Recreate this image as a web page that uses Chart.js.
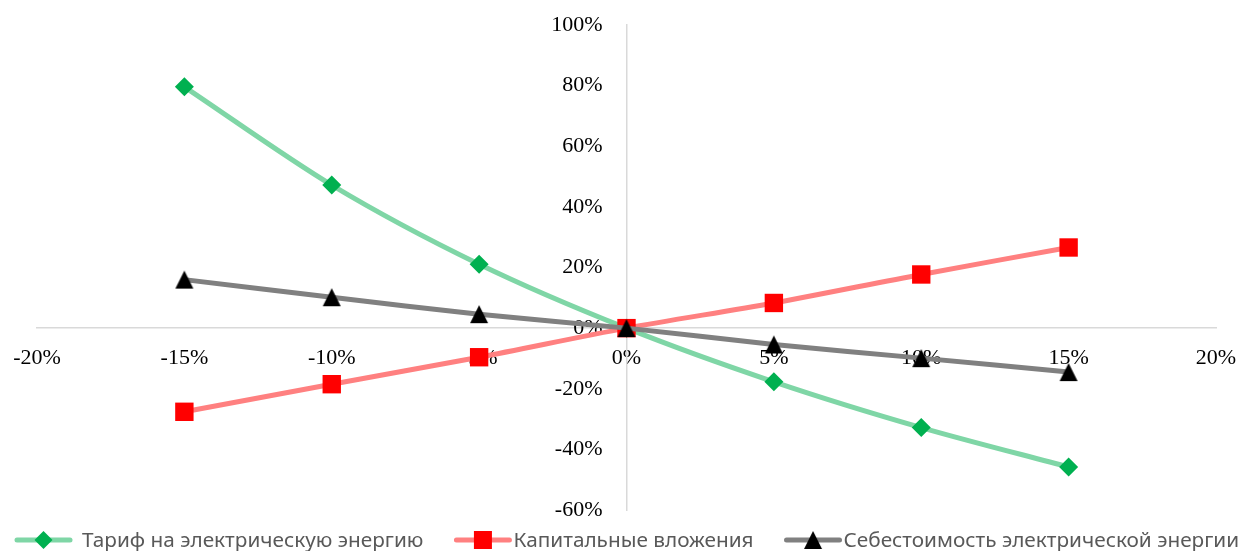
<!DOCTYPE html>
<html>
<head>
<meta charset="utf-8">
<script src="https://cdn.jsdelivr.net/npm/chart.js@4.4.1/dist/chart.umd.min.js"></script>
<style>
  html, body { margin: 0; padding: 0; background: #fff; }
  #wrap { width: 1245px; height: 551px; position: relative; }
</style>
</head>
<body>
<div id="wrap"><canvas id="chart" width="1245" height="551"></canvas></div>
<script>
// Change of the input parameter, %
const changes = [-15, -10, -5, 0, 5, 10, 15];

// Change of the result, % (one array per factor)
const tariffValues = [79.6, 47.2, 21.1, 0, -17.7, -32.8, -45.8];
const capexValues  = [-27.6, -18.5, -9.6, 0, 8.3, 17.7, 26.6];
const costValues   = [16.0, 10.2, 4.6, 0, -5.4, -9.9, -14.5];

const seriesNames = [
  'Тариф на электрическую энергию',
  'Капитальные вложения',
  'Себестоимость электрической энергии'
];

// Axis ranges and tick steps
const xRange = [-20, 20];
const xStep = 5;
const yRange = [-60, 100];
const yStep = 20;

// Plot rectangle inside the 1245x551 canvas
const plotBox = { left: 37, right: 1216, top: 25, bottom: 510 };
const yLabelGap = 24;   // right edge of y labels to the vertical axis
const xLabelDrop = 30;  // horizontal axis to the middle of x labels

function toPoints(xs, ys) {
  return xs.map((x, i) => ({ x: x, y: ys[i] }));
}

// Triangle marker whose bounding box is centred on the point
function triangleMarker(size, color) {
  const c = document.createElement('canvas');
  c.width = size + 2;
  c.height = size + 2;
  const g = c.getContext('2d');
  g.fillStyle = color;
  g.beginPath();
  g.moveTo(1 + size / 2, 1);
  g.lineTo(1 + size, 1 + size);
  g.lineTo(1, 1 + size);
  g.closePath();
  g.fill();
  return c;
}
const triImg = triangleMarker(18, '#000000');

const styles = [
  { line: '#7fd6a6', mark: '#00b050', pointStyle: 'rectRot', radius: 9.5 },
  { line: '#ff8080', mark: '#ff0000', pointStyle: 'rect', radius: 13 },
  { line: '#808080', mark: '#000000', pointStyle: triImg, radius: 10 }
];

const valueSets = [tariffValues, capexValues, costValues];

const datasets = valueSets.map((vals, i) => ({
  label: seriesNames[i],
  data: toPoints(changes, vals),
  borderColor: styles[i].line,
  backgroundColor: styles[i].mark,
  borderWidth: 5,
  pointStyle: styles[i].pointStyle,
  pointRadius: styles[i].radius,
  pointHoverRadius: styles[i].radius,
  pointBackgroundColor: styles[i].mark,
  pointBorderColor: styles[i].mark,
  pointBorderWidth: 0,
  tension: 0.3,
  fill: false,
  order: 3 - i,
  clip: false
}));

// Tick labels of the crossing axes: y labels left of the vertical axis,
// x labels centred a fixed distance below the horizontal axis
const axisLabelPlacement = {
  id: 'axisLabelPlacement',
  beforeDraw(chart) {
    const sx = chart.scales.x, sy = chart.scales.y;
    if (!sx || !sy || typeof sy._computeLabelItems !== 'function') return;
    const axisX = sx.getPixelForValue(0);
    const axisY = sy.getPixelForValue(0);
    const yItems = sy._computeLabelItems(chart.chartArea);
    yItems.forEach(it => {
      it.options.translation[0] = axisX - yLabelGap;
      it.options.textAlign = 'right';
      it.options.textBaseline = 'middle';
      it.textOffset = 0;
    });
    sy._labelItems = yItems;
    const xItems = sx._computeLabelItems(chart.chartArea);
    xItems.forEach(it => {
      it.options.translation[1] = axisY + xLabelDrop;
      it.options.textAlign = 'center';
      it.options.textBaseline = 'middle';
      it.textOffset = 0;
    });
    sx._labelItems = xItems;
  }
};

// Legend drawn below the plot: line sample with marker, then the name
const bottomLegend = {
  id: 'bottomLegend',
  afterDraw(chart) {
    const ctx = chart.ctx;
    const y = 540;
    const family = '"Noto Sans", "Open Sans", sans-serif';
    ctx.save();
    ctx.font = '20px ' + family;
    const targetTotal = 978;
    const measured = seriesNames.reduce((s, n) => s + ctx.measureText(n).width, 0);
    const fontSize = 20 * targetTotal / measured;
    ctx.font = fontSize.toFixed(2) + 'px ' + family;
    const sampleLen = 57;
    const textGap = [10, 2, 2];
    const itemGap = 31;
    let x = 15;
    seriesNames.forEach((name, i) => {
      const st = styles[i];
      ctx.strokeStyle = st.line;
      ctx.lineWidth = 5;
      ctx.lineCap = 'round';
      ctx.beginPath();
      ctx.moveTo(x + 2, y);
      ctx.lineTo(x + sampleLen - 2, y);
      ctx.stroke();
      const cx = x + sampleLen / 2;
      ctx.fillStyle = st.mark;
      if (i === 0) {
        ctx.beginPath();
        ctx.moveTo(cx, y - 9);
        ctx.lineTo(cx + 9, y);
        ctx.lineTo(cx, y + 9);
        ctx.lineTo(cx - 9, y);
        ctx.closePath();
        ctx.fill();
      } else if (i === 1) {
        ctx.fillRect(cx - 9, y - 9, 18, 18);
      } else {
        ctx.drawImage(triImg, cx - triImg.width / 2, y - triImg.height / 2);
      }
      const tx = x + sampleLen + textGap[i];
      ctx.fillStyle = '#595959';
      ctx.textAlign = 'left';
      ctx.textBaseline = 'middle';
      ctx.fillText(name, tx, y + 1);
      x = tx + ctx.measureText(name).width + itemGap;
    });
    ctx.restore();
  }
};

const tickFont = { family: '"Liberation Serif", "Times New Roman", serif', size: 22 };

const pad = { left: plotBox.left, right: 1245 - plotBox.right, top: plotBox.top, bottom: 551 - plotBox.bottom };

const chart = new Chart(document.getElementById('chart'), {
  type: 'line',
  data: { datasets: datasets },
  plugins: [axisLabelPlacement, bottomLegend],
  options: {
    responsive: false,
    animation: false,
    events: [],
    layout: { padding: Object.assign({}, pad) },
    plugins: {
      legend: { display: false },
      tooltip: { enabled: false },
      title: { display: false }
    },
    scales: {
      x: {
        type: 'linear',
        position: { y: 0 },
        min: xRange[0],
        max: xRange[1],
        afterFit(scale) { scale.height = 0; },
        ticks: {
          stepSize: xStep,
          color: '#000000',
          font: tickFont,
          padding: 0,
          maxRotation: 0,
          autoSkip: false,
          callback: v => v + '%'
        },
        grid: { display: false, drawTicks: false },
        border: { display: true, color: '#d9d9d9', width: 1.5 }
      },
      y: {
        type: 'linear',
        position: { x: 0 },
        min: yRange[0],
        max: yRange[1],
        afterFit(scale) { scale.width = 0; },
        ticks: {
          stepSize: yStep,
          color: '#000000',
          font: tickFont,
          padding: 0,
          autoSkip: false,
          callback: v => v + '%'
        },
        grid: { display: false, drawTicks: false },
        border: { display: true, color: '#d9d9d9', width: 1.5 }
      }
    }
  }
});

// Settle the layout so the axis ends land on plotBox
for (let k = 0; k < 6; k++) {
  const sx = chart.scales.x, sy = chart.scales.y;
  const dl = plotBox.left - sx.getPixelForValue(xRange[0]);
  const dr = sx.getPixelForValue(xRange[1]) - plotBox.right;
  const dt = plotBox.top - sy.getPixelForValue(yRange[1]);
  const db = sy.getPixelForValue(yRange[0]) - plotBox.bottom;
  if (Math.abs(dl) + Math.abs(dr) + Math.abs(dt) + Math.abs(db) < 0.3) break;
  pad.left += dl; pad.right += dr; pad.top += dt; pad.bottom += db;
  chart.options.layout.padding = Object.assign({}, pad);
  chart.update();
}
</script>
</body>
</html>
